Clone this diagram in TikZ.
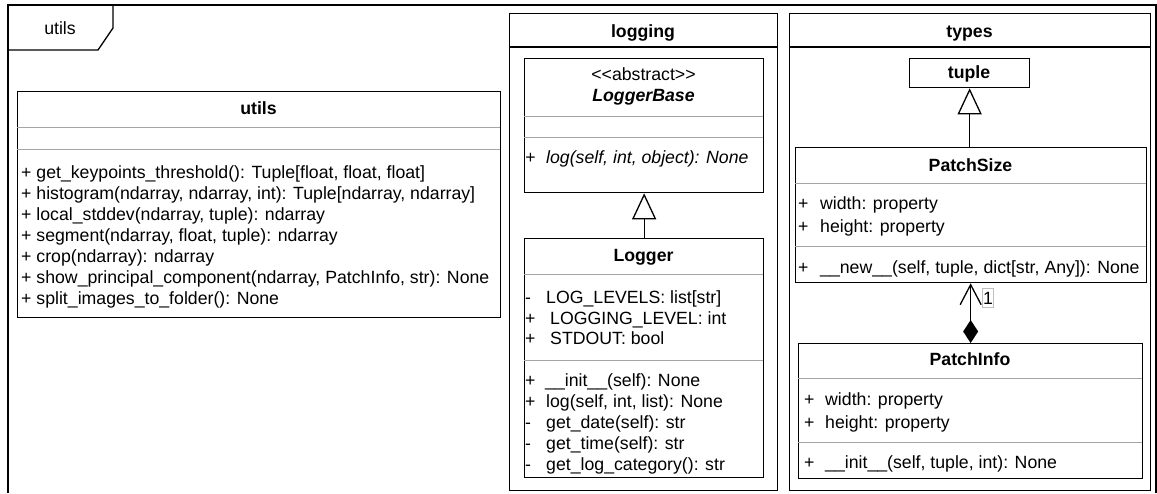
\documentclass[tikz,border=0pt]{standalone}
\usepackage{fontspec}
\setmainfont{Liberation Sans}
\usetikzlibrary{arrows.meta,positioning}
\definecolor{sepgray}{RGB}{165,165,165}
% sign of a member, then its name at a fixed indent
\newcommand{\umlmember}[3][21pt]{\makebox[#1][l]{#2}#3}

\begin{document}
\begin{tikzpicture}[
    x=1pt, y=-1pt,
    outline/.style={draw=black, line width=1.3pt},
    pkg/.style={draw=black, line width=1.3pt, inner sep=0pt, anchor=north west},
    cls/.style={draw=black, line width=1.3pt, inner sep=0pt, anchor=north west},
    divider/.style={draw=sepgray, line width=1pt},
    txt/.style={font=\fontsize{17.7}{21}\selectfont, inner sep=0pt, anchor=base west},
    hd/.style={font=\fontsize{17.7}{21}\selectfont\bfseries, inner sep=0pt, anchor=base},
    inherits/.style={line width=1.3pt, -{Triangle[open, length=26pt, width=24pt, fill=white]}},
    owns/.style={line width=1.3pt, {Diamond[length=23pt, width=15pt]}-{Straight Barb[length=20pt, width=21pt]}},
    mult/.style={draw=black!25, line width=0.8pt, font=\fontsize{17.7}{21}\selectfont, inner sep=0.5pt, minimum height=19pt}
  ]
  \useasboundingbox (0,0) rectangle (1157,493);

  % outer frame with its tab
  \draw[outline] (8,493) -- (8,5) -- (1156,5) -- (1156,493);
  \draw[outline] (8,50) -- (98,50) -- (113,28) -- (113,5);
  \node[txt, anchor=base] (tablabel) at (60,34) {utils};

  % utils module
  \node[cls, minimum width=483, minimum height=226] (utils) at (17,91) {};
  \draw[divider] (17,127) -- (500,127);
  \draw[divider] (17,149) -- (500,149);
  \node[hd] (utilsname) at (258.5,114) {utils};
  \foreach \m [count=\i] in {
      {+ get\_keypoints\_threshold(): Tuple[float, float, float]},
      {+ histogram(ndarray, ndarray, int): Tuple[ndarray, ndarray]},
      {+ local\_stddev(ndarray, tuple): ndarray},
      {+ segment(ndarray, float, tuple): ndarray},
      {+ crop(ndarray): ndarray},
      {+ show\_principal\_component(ndarray, PatchInfo, str): None},
      {+ split\_images\_to\_folder(): None}}
    \node[txt] (utilsop\i) at (21,{178+21*(\i-1)}) {\m};

  % logging package
  \node[pkg, minimum width=268, minimum height=477] (logging) at (509,13) {};
  \draw[outline] (509,47) -- (777,47);
  \node[hd] (loggingname) at (643,37) {logging};

  % abstract base
  \node[cls, minimum width=239, minimum height=134] (loggerbase) at (524,58) {};
  \draw[divider] (524,116) -- (763,116);
  \draw[divider] (524,137) -- (763,137);
  \node[txt, anchor=base] (stereo) at (643.5,80) {<\kern0pt<abstract>\kern0pt>};
  \node[hd, font=\fontsize{17.7}{21}\selectfont\bfseries\itshape] (basename) at (643.5,101) {LoggerBase};
  \node[txt, font=\fontsize{17.7}{21}\selectfont\itshape] (baseop) at (525,163) {\umlmember{+}{log(self, int, object): None}};

  % concrete logger
  \node[cls, minimum width=239, minimum height=239] (logger) at (524,238) {};
  \draw[divider] (524,274) -- (763,274);
  \draw[divider] (524,360) -- (763,360);
  \node[hd] (loggername) at (643.5,261) {Logger};
  \node[txt] (loggerattr1) at (525,303) {\umlmember{-}{LOG\_LEVELS: list[str]}};
  \node[txt] (loggerattr2) at (525,324) {\umlmember[25pt]{+}{LOGGING\_LEVEL: int}};
  \node[txt] (loggerattr3) at (525,344) {\umlmember[25pt]{+}{STDOUT: bool}};
  \foreach \m [count=\i] in {
      {\umlmember[20pt]{+}{\_\_init\_\_(self): None}},
      {\umlmember{+}{log(self, int, list): None}},
      {\umlmember{-}{get\_date(self): str}},
      {\umlmember{-}{get\_time(self): str}},
      {\umlmember{-}{get\_log\_category(): str}}}
    \node[txt] (loggerop\i) at (525,{386+21*(\i-1)}) {\m};

  \draw[inherits] (logger.north) -- (loggerbase.south);

  % types package
  \node[pkg, minimum width=361, minimum height=477] (types) at (789,13) {};
  \draw[outline] (789,47) -- (1150,47);
  \node[hd] (typesname) at (969.5,37) {types};

  \node[cls, minimum width=120, minimum height=29] (tuple) at (909,58) {};
  \node[hd] (tuplename) at (969,78) {tuple};

  \node[cls, minimum width=351, minimum height=135] (patchsize) at (795,147) {};
  \draw[divider] (795,183) -- (1146,183);
  \draw[divider] (795,246) -- (1146,246);
  \node[hd] (patchsizename) at (970.5,171) {PatchSize};
  \node[txt] (sizeattr1) at (798,209) {\umlmember[22pt]{+}{width: property}};
  \node[txt] (sizeattr2) at (798,232) {\umlmember[22pt]{+}{height: property}};
  \node[txt] (sizeop1) at (798,273) {\umlmember[22pt]{+}{\_\_new\_\_(self, tuple, dict[str, Any]): None}};

  \node[cls, minimum width=344, minimum height=135] (patchinfo) at (798,343) {};
  \draw[divider] (798,378) -- (1142,378);
  \draw[divider] (798,442) -- (1142,442);
  \node[hd] (patchinfoname) at (970,365) {PatchInfo};
  \node[txt] (infoattr1) at (804,405) {\umlmember{+}{width: property}};
  \node[txt] (infoattr2) at (804,428) {\umlmember{+}{height: property}};
  \node[txt] (infoop1) at (804,468) {\umlmember{+}{\_\_init\_\_(self, tuple, int): None}};

  \draw[inherits] (patchsize.north -| tuple.south) -- (tuple.south);
  \draw[owns] (patchinfo.north) -- (patchinfo.north |- patchsize.south);
  \node[mult] (sizecount) at (988,298) {1};
\end{tikzpicture}
\end{document}
